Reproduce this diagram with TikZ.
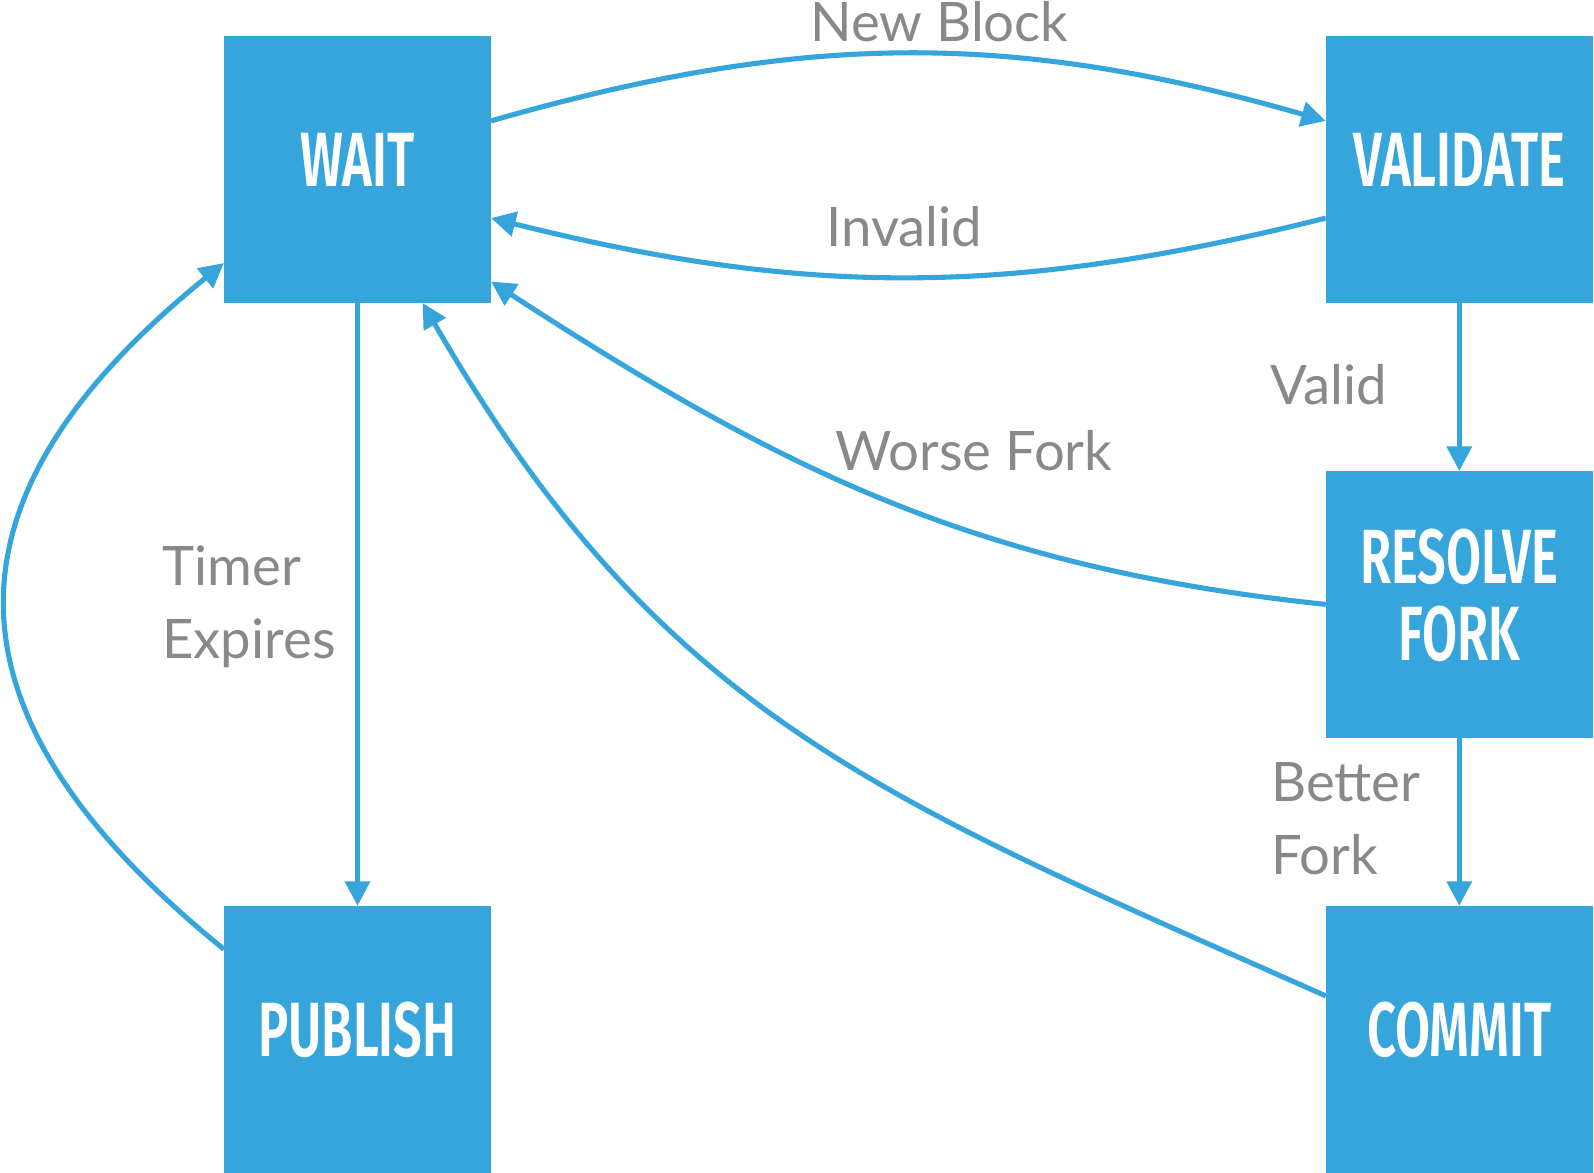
\documentclass[tikz,border=0pt]{standalone}
\usepackage{fontspec}
\usetikzlibrary{positioning, arrows.meta}
\newfontfamily\estatfont[FakeStretch=0.66]{Fira Sans SemiBold}
\newfontfamily\etiqfont{Lato}
\definecolor{blau}{HTML}{35A5DB}
\definecolor{gris}{HTML}{87898A}

\begin{document}
\begin{tikzpicture}[x=0.02cm, y=-0.02cm,
    estat/.style={fill=blau, 
        minimum width=5.34cm, minimum height=5.34cm, 
        text=white, font=\estatfont\fontsize{43.8}{43.8}\selectfont, align=center,
        text depth=11.4pt, inner sep=0pt, outer sep=0pt},
    etiq/.style={text=gris, font=\etiqfont\fontsize{31}{41}\selectfont, 
        align=left, anchor=base west, inner sep=0pt},
    fletxa/.style={draw=blau, line width=2.9pt, 
        -{Triangle[length=14pt, width=14pt]}},
    node distance=3.36cm and 16.7cm,
    ]
    \useasboundingbox (0,0) rectangle (1594,1172);
    \node[estat] (wait) at (357.5,169.5) {WAIT};
    \node[estat, right=of wait] (validate) {VALIDATE};
    \node[estat, below=of validate] (resolve) {RESOLVE\\ FORK};
    \node[estat, below=of resolve] (commit) {COMMIT};
    \node[estat, left=of commit] (publish) {PUBLISH};
    \node[etiq] (newblock) at (810,42) {New Block};
    \node[etiq] (invalid) at (826,247) {Invalid};
    \node[etiq] (valid) at (1270,404) {Valid};
    \node[etiq] (worse) at (835,470) {Worse Fork};
    \node[etiq] (timer) at (162,658) {Timer\\ Expires};
    \node[etiq] (better) at (1271,874) {Better\\ Fork};
    \draw[fletxa] (wait.20) to[bend left=16] (validate.160);
    \draw[fletxa] (validate.200) to[bend left=14] (wait.340);
    \draw[fletxa] (validate) -- (resolve);
    \draw[fletxa] (resolve) -- (commit);
    \draw[fletxa] (wait) -- (publish);
    \draw[fletxa] (resolve.west) to[out=174, in=-33] (wait.320);
    \draw[fletxa] (commit.162) to[out=156, in=-60, looseness=1.08] (wait.296);
    \draw[fletxa] (publish.146) to[out=141, in=219, looseness=1.4] (wait.215);
\end{tikzpicture}
\end{document}
